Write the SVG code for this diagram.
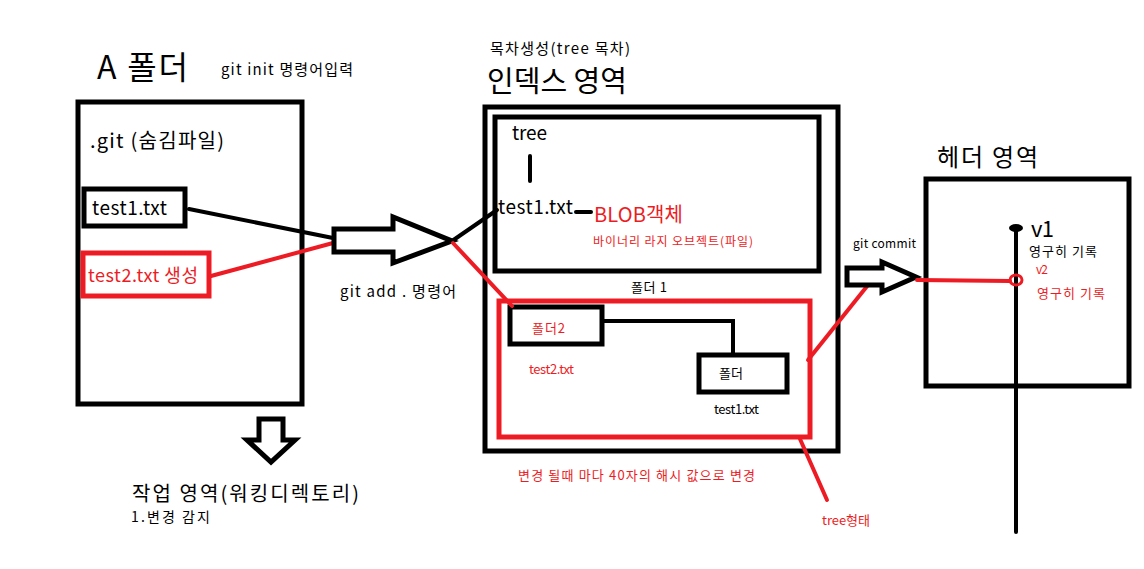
<svg xmlns="http://www.w3.org/2000/svg" width="1144" height="569" viewBox="0 0 1144 569">
<style>
text{font-family:"Noto Sans CJK KR","Noto Sans",sans-serif;fill:#000}
.r{fill:#ed1c24}
.bk{fill:none;stroke:#000;stroke-width:5}
.rd{fill:none;stroke:#ed1c24;stroke-width:5}
.arr{fill:#fff;stroke:#000;stroke-width:5;stroke-linejoin:miter}
.ln{fill:none;stroke:#000;stroke-width:4;stroke-linecap:round}
.rl{fill:none;stroke:#ed1c24;stroke-width:4;stroke-linecap:round}
</style>
<rect width="1144" height="569" fill="#fff"/>

<g id="working-dir">
  <text x="97" y="79" font-size="32" textLength="91" lengthAdjust="spacing">A 폴더</text>
  <text x="221" y="75" font-size="15" textLength="132" lengthAdjust="spacing">git init 명령어입력</text>
  <rect class="bk" x="78" y="102" width="224" height="302"/>
  <text x="90" y="148" font-size="20" textLength="134" lengthAdjust="spacing">.git (숨김파일)</text>
  <text x="132" y="501" font-size="20" textLength="227" lengthAdjust="spacing">작업 영역(워킹디렉토리)</text>
  <text x="131" y="522" font-size="14" textLength="79" lengthAdjust="spacing">1.변경 감지</text>
</g>
<g id="test1-node">
  <rect class="bk" x="84" y="189" width="101" height="37"/>
  <text x="92" y="215" font-size="19" textLength="75" lengthAdjust="spacing">test1.txt</text>
</g>
<g id="test2-node">
  <rect class="rd" x="83" y="253" width="126" height="43"/>
  <text class="r" x="88" y="282" font-size="18" textLength="110" lengthAdjust="spacing">test2.txt 생성</text>
</g>

<g id="index-area">
  <text x="490" y="54" font-size="15" textLength="140" lengthAdjust="spacing">목차생성(tree 목차)</text>
  <text x="487" y="92" font-size="29" textLength="140" lengthAdjust="spacing">인덱스 영역</text>
  <rect class="bk" x="485" y="107" width="353" height="344"/>
  <text class="r" x="518" y="480" font-size="13" textLength="237" lengthAdjust="spacing">변경 될때 마다 40자의 해시 값으로 변경</text>
  <text class="r" x="822" y="525" font-size="13" textLength="48" lengthAdjust="spacing">tree형태</text>
</g>
<g id="tree-node">
  <rect class="bk" x="495" y="117" width="324" height="154"/>
  <text x="512" y="140" font-size="19" textLength="35" lengthAdjust="spacing">tree</text>
  <text x="498" y="214" font-size="19" textLength="75" lengthAdjust="spacing">test1.txt</text>
  <text class="r" x="594" y="222" font-size="20" textLength="89" lengthAdjust="spacing">BLOB객체</text>
  <text class="r" x="593" y="246" font-size="12" textLength="160" lengthAdjust="spacing">바이너리 라지 오브젝트(파일)</text>
</g>
<g id="folder1-node">
  <text x="631" y="292" font-size="13" textLength="36" lengthAdjust="spacing">폴더 1</text>
  <rect class="rd" x="499" y="301" width="311" height="136"/>
  <text class="r" x="529" y="374" font-size="13" textLength="45" lengthAdjust="spacing">test2.txt</text>
  <text x="714" y="414" font-size="13" textLength="45" lengthAdjust="spacing">test1.txt</text>
</g>
<g id="folder2-node">
  <rect class="bk" x="510" y="307" width="92" height="37"/>
  <text class="r" x="532" y="333" font-size="13" textLength="33" lengthAdjust="spacing">폴더2</text>
</g>
<g id="folder-node">
  <rect class="bk" x="699" y="355" width="88" height="37"/>
  <text x="719" y="378" font-size="13" textLength="24" lengthAdjust="spacing">폴더</text>
</g>

<g id="head-area">
  <text x="937" y="166" font-size="24" textLength="101" lengthAdjust="spacing">헤더 영역</text>
  <rect class="bk" x="926" y="179" width="203" height="207"/>
  <text x="1031" y="237" font-size="22" textLength="23" lengthAdjust="spacing">v1</text>
  <text x="1029" y="256" font-size="13" textLength="68" lengthAdjust="spacing">영구히 기록</text>
  <text class="r" x="1036" y="274" font-size="12" textLength="12" lengthAdjust="spacing">v2</text>
  <text class="r" x="1037" y="298" font-size="13" textLength="68" lengthAdjust="spacing">영구히 기록</text>
</g>

<g id="connectors">
  <path class="ln" d="M189 209 L333 238"/>
  <path class="rl" d="M211 276 L333 243"/>
  <path class="arr" d="M334 229 H393 V217 L452 241 L393 263 V252 H334 Z"/>
  <text x="340" y="297" font-size="15" textLength="116" lengthAdjust="spacing">git add . 명령어</text>
  <path class="ln" d="M452 241 L497 210"/>
  <path class="rl" d="M453 243 L512 306"/>
  <path class="ln" d="M530 156 V181"/>
  <path class="ln" d="M576 212 H591"/>
  <path class="ln" d="M604 321 H733 V355"/>
  <path class="rl" d="M800 439 L827 500"/>
  <path class="rl" d="M808 360 L868 285"/>
  <path class="arr" d="M847 268 H882 V262 L916 277 L882 292 V285 H847 Z"/>
  <text x="853" y="248" font-size="12" textLength="63" lengthAdjust="spacing">git commit</text>
  <path class="rl" d="M917 280 L1010 281"/>
  <path class="ln" d="M1016 228 V532"/>
  <ellipse cx="1016" cy="228" rx="7" ry="4" fill="#000"/>
  <ellipse cx="1016" cy="280" rx="6" ry="5" fill="none" stroke="#ed1c24" stroke-width="3"/>
  <path class="arr" d="M259 419 H283 V440 H295 L271 462 L247 440 H259 Z"/>
</g>
</svg>
